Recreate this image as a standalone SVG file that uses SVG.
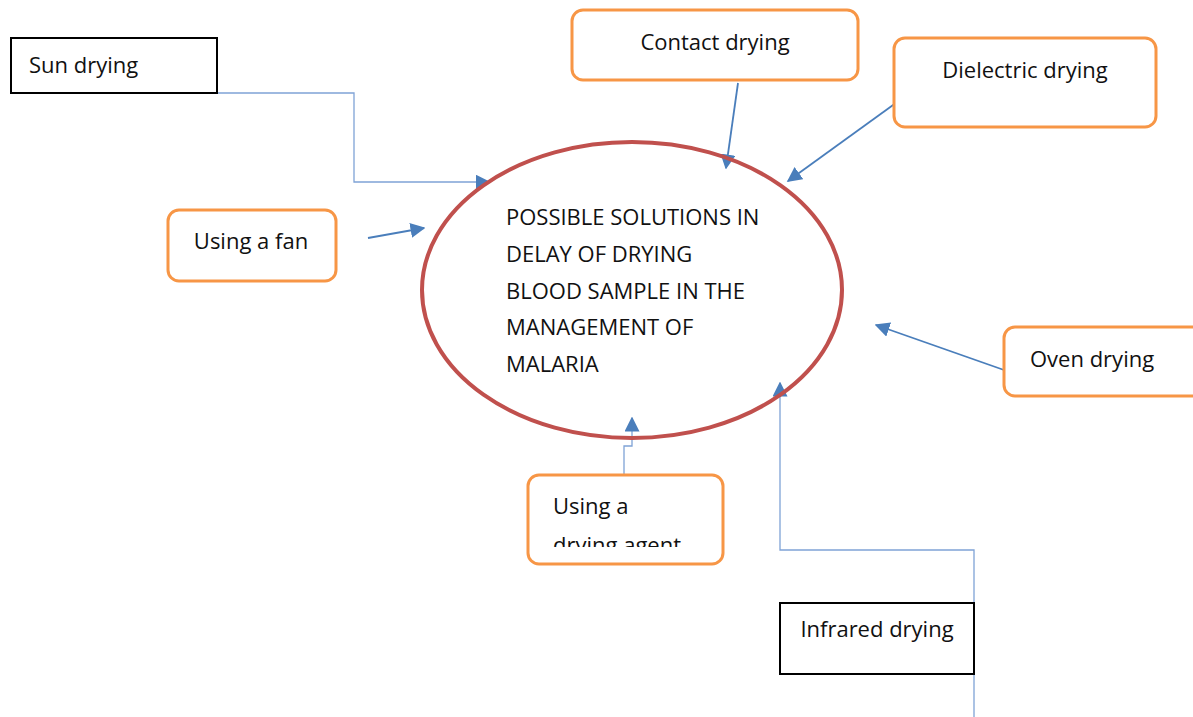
<svg xmlns="http://www.w3.org/2000/svg" width="1193" height="717" viewBox="0 0 1193 717">
<style>
.t{font-family:"Open Sans","Noto Sans","Liberation Sans",sans-serif;font-size:22px;fill:#111}
.ob{fill:#fff;stroke:#F79646;stroke-width:3}
.bb{fill:#fff;stroke:#000;stroke-width:2}
.c1{fill:none;stroke:#4A7EBB;stroke-width:1.8}
.c2{fill:none;stroke:#7FA3D6;stroke-width:1.3}
</style>
<defs>
<marker id="ah" viewBox="0 0 10 10" refX="9" refY="5" markerWidth="15" markerHeight="15" markerUnits="userSpaceOnUse" orient="auto">
<path d="M0,0 L10,5 L0,10 z" fill="#4A7EBB"/>
</marker>
<clipPath id="clipAgent"><rect x="528" y="474" width="200" height="73"/></clipPath>
</defs>
<rect width="1193" height="717" fill="#fff"/>
<g id="connectors">
<polyline class="c2" points="217,93 354,93 354,182 489,182" marker-end="url(#ah)"/>
<line class="c1" x1="738" y1="83" x2="726" y2="168" marker-end="url(#ah)"/>
<line class="c1" x1="900" y1="100" x2="788" y2="181" marker-end="url(#ah)"/>
<line class="c1" x1="368" y1="238" x2="424" y2="228" marker-end="url(#ah)"/>
<line class="c1" x1="1004" y1="370" x2="876" y2="325" marker-end="url(#ah)"/>
<polyline class="c2" points="624,474 624,446 632,446 632,418" marker-end="url(#ah)"/>
<polyline class="c2" points="974,717 974,550 780,550 780,383" marker-end="url(#ah)"/>
</g>
<g id="center">
<ellipse cx="632" cy="290" rx="210" ry="148" fill="none" stroke="#C0504D" stroke-width="4"/>
<text class="t" x="506" y="225">POSSIBLE SOLUTIONS IN</text>
<text class="t" x="506" y="262">DELAY OF DRYING</text>
<text class="t" x="506" y="299">BLOOD SAMPLE IN THE</text>
<text class="t" x="506" y="335">MANAGEMENT OF</text>
<text class="t" x="506" y="372">MALARIA</text>
</g>
<g id="sun">
<rect class="bb" x="11" y="38" width="206" height="55"/>
<text class="t" x="29" y="73">Sun drying</text>
</g>
<g id="contact">
<rect class="ob" x="572" y="10" width="286" height="70" rx="11"/>
<text class="t" x="715" y="50" text-anchor="middle">Contact drying</text>
</g>
<g id="dielectric">
<rect class="ob" x="894" y="38" width="262" height="89" rx="11"/>
<text class="t" x="1025" y="78" text-anchor="middle">Dielectric drying</text>
</g>
<g id="fan">
<rect class="ob" x="168" y="210" width="168" height="71" rx="11"/>
<text class="t" x="251" y="249" text-anchor="middle">Using a fan</text>
</g>
<g id="oven">
<rect class="ob" x="1004" y="327" width="200" height="69" rx="11"/>
<text class="t" x="1030" y="367">Oven drying</text>
</g>
<g id="agent">
<rect class="ob" x="528" y="475" width="195" height="89" rx="11"/>
<g clip-path="url(#clipAgent)">
<text class="t" x="553" y="514">Using a</text>
<text class="t" x="553" y="553">drying agent</text>
</g>
</g>
<g id="infrared">
<rect class="bb" x="780" y="603" width="194" height="71"/>
<text class="t" x="877" y="637" text-anchor="middle">Infrared drying</text>
</g>
</svg>
